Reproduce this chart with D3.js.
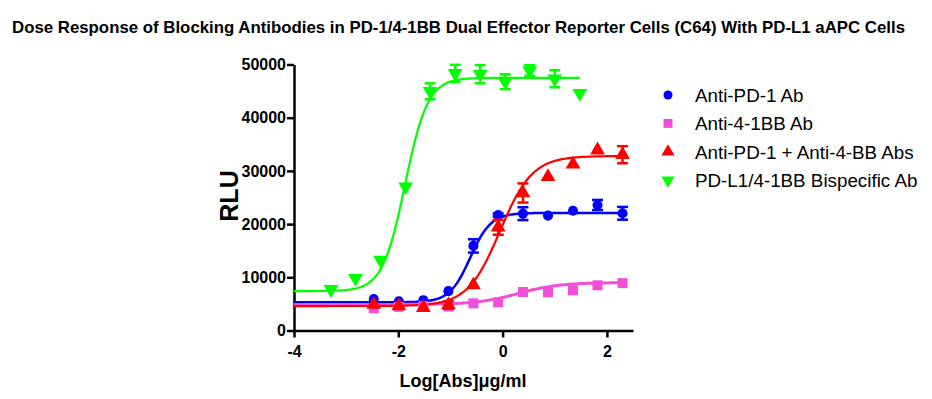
<!DOCTYPE html>
<html>
<head>
<meta charset="utf-8">
<script src="https://cdn.jsdelivr.net/npm/d3@7"></script>
<style>
  body { margin: 0; background: #fff; }
  svg { display: block; font-family: 'Liberation Sans', Arial, sans-serif; }
  .axis path, .axis line { stroke: #000; stroke-width: 2.5px; }
  .axis text { font-weight: bold; font-size: 16px; fill: #000; }
</style>
</head>
<body>
<svg id="chart" width="932" height="399"></svg>
<script>
const title = 'Dose Response of Blocking Antibodies in PD-1/4-1BB Dual Effector Reporter Cells (C64) With PD-L1 aAPC Cells'
const seriesNames = ['Anti-PD-1 Ab', 'Anti-4-1BB Ab', 'Anti-PD-1 + Anti-4-BB Abs', 'PD-L1/4-1BB Bispecific Ab']
const seriesColors = ['#0000ff', '#f24fd8', '#ff0000', '#00ff00']

// log10 of concentration, ug/ml
const logDose = [-2.47, -1.99, -1.52, -1.04, -0.56, -0.085, 0.39, 0.87, 1.35, 1.82, 2.30]
const logDoseBispecific = [-3.29, -2.82, -2.34, -1.86, -1.39, -0.91, -0.43, 0.05, 0.52, 1.0, 1.48]

const antiPD1 = [5900, 5500, 5700, 7400, 15900, 21700, 21960, 21600, 22500, 23590, 22030]
const antiPD1Err = [0, 0, 0, 0, 1250, 300, 1200, 0, 0, 950, 1200]
const anti41BB = [4200, 4450, 4600, 4500, 5100, 5300, 7240, 7180, 7560, 8500, 8900]
const anti41BBErr = [0, 0, 0, 0, 0, 0, 0, 0, 0, 0, 0]
const combo = [4900, 4600, 4300, 4800, 8550, 19400, 25850, 28900, 31240, 33900, 33050]
const comboErr = [0, 0, 0, 700, 0, 1400, 1800, 0, 0, 0, 1600]
const bispecific = [7740, 9810, 13250, 27030, 44960, 48340, 48180, 46770, 48870, 47330, 44590]
const bispecificErr = [0, 0, 0, 0, 1500, 1600, 1700, 1400, 1000, 1600, 0]

// 4-parameter logistic fits: bottom, top, logEC50, hill slope
const fitBottom = [5300, 4900, 4600, 7400]
const fitTop = [22100, 9000, 32800, 47500]
const fitLogEC50 = [-0.62, 0.3, -0.05, -1.87]
const fitHill = [2.2, 1.1, 1.4, 2.0]
const fitEnd = [2.3, 2.3, 2.3, 1.48]

const xTicks = [-4, -2, 0, 2]
const yTicks = [0, 10000, 20000, 30000, 40000, 50000]

const seriesSymbols = [d3.symbolCircle, d3.symbolSquare, d3.symbolTriangle, d3.symbolTriangle]
const symbolSizes = [80, 100, 95, 95]
const curveWidths = [2.5, 3, 2.2, 2.2]

const series = seriesNames.map((name, i) => ({
  name: name,
  color: seriesColors[i],
  x: i === 3 ? logDoseBispecific : logDose,
  y: [antiPD1, anti41BB, combo, bispecific][i],
  err: [antiPD1Err, anti41BBErr, comboErr, bispecificErr][i],
  fit: {bottom: fitBottom[i], top: fitTop[i], ec50: fitLogEC50[i], hill: fitHill[i], end: fitEnd[i]},
  symbol: seriesSymbols[i],
  size: symbolSizes[i],
  lw: curveWidths[i],
  flip: i === 3
}))

const svg = d3.select('#chart')

const x = d3.scaleLinear().domain([-4, 2.5]).range([294, 633])
const y = d3.scaleLinear().domain([0, 50000]).range([330.5, 64.5])

svg.append('text')
  .attr('x', 12)
  .attr('y', 33)
  .attr('textLength', 893)
  .attr('lengthAdjust', 'spacingAndGlyphs')
  .style('font-weight', 'bold')
  .style('font-size', '17px')
  .text(title)

// plain hyphen for negatives, like the original
const plain = d => String(d)

// axes
svg.append('g')
  .attr('class', 'axis')
  .attr('transform', `translate(0, ${y(0)})`)
  .call(d3.axisBottom(x).tickValues(xTicks).tickSize(7).tickSizeOuter(0).tickFormat(plain))
  .call(g => g.selectAll('text').attr('dy', '1.05em'))

svg.append('g')
  .attr('class', 'axis')
  .attr('transform', `translate(${x(-4)}, 0)`)
  .call(d3.axisLeft(y).tickValues(yTicks).tickSize(7).tickSizeOuter(0).tickPadding(1).tickFormat(plain))

svg.append('text')
  .attr('x', 463)
  .attr('y', 387)
  .attr('text-anchor', 'middle')
  .style('font-weight', 'bold')
  .style('font-size', '18px')
  .text('Log[Abs]\u03bcg/ml')

svg.append('text')
  .attr('transform', 'translate(238, 196) rotate(-90)')
  .attr('text-anchor', 'middle')
  .style('font-weight', 'bold')
  .style('font-size', '25px')
  .text('RLU')

// fitted curves
const logistic = (f, v) => f.bottom + (f.top - f.bottom) / (1 + Math.pow(10, (f.ec50 - v) * f.hill))
const line = d3.line().x(d => x(d[0])).y(d => y(d[1]))

series.forEach((s) => {
  const pts = d3.range(-4, s.fit.end + 0.001, 0.02).map(v => [v, logistic(s.fit, v)])
  svg.append('path')
    .attr('d', line(pts))
    .attr('fill', 'none')
    .attr('stroke', s.color)
    .attr('stroke-width', s.lw)
})

// points with error bars
series.forEach((s) => {
  const g = svg.append('g').attr('fill', s.color).attr('stroke', s.color)
  const data = s.x.map((v, i) => ({x: v, y: s.y[i], e: s.err[i]}))

  const bars = g.selectAll('.err')
    .data(data.filter(d => d.e > 0))
    .enter()
    .append('g')
    .attr('stroke-width', 2.5)
  bars.append('line')
    .attr('x1', d => x(d.x)).attr('x2', d => x(d.x))
    .attr('y1', d => y(d.y - d.e)).attr('y2', d => y(d.y + d.e))
  bars.append('line')
    .attr('x1', d => x(d.x) - 5.5).attr('x2', d => x(d.x) + 5.5)
    .attr('y1', d => y(d.y - d.e)).attr('y2', d => y(d.y - d.e))
  bars.append('line')
    .attr('x1', d => x(d.x) - 5.5).attr('x2', d => x(d.x) + 5.5)
    .attr('y1', d => y(d.y + d.e)).attr('y2', d => y(d.y + d.e))

  g.selectAll('.pt')
    .data(data)
    .enter()
    .append('path')
    .attr('stroke', 'none')
    .attr('d', d3.symbol().type(s.symbol).size(s.size))
    .attr('transform', d => `translate(${x(d.x)}, ${y(d.y)})` + (s.flip ? ' rotate(180)' : ''))
})

// legend
const legend = svg.append('g')
  .selectAll('g')
  .data(series)
  .enter()
  .append('g')
  .attr('transform', (d, i) => `translate(668, ${95 + i * 28.4})`)

legend.append('path')
  .attr('d', d => d3.symbol().type(d.symbol).size(d.size * 0.8)())
  .attr('transform', d => d.flip ? 'rotate(180)' : null)
  .attr('fill', d => d.color)

legend.append('text')
  .attr('x', 27)
  .attr('dy', '0.36em')
  .style('font-size', '18.8px')
  .text(d => d.name)
</script>
</body>
</html>
